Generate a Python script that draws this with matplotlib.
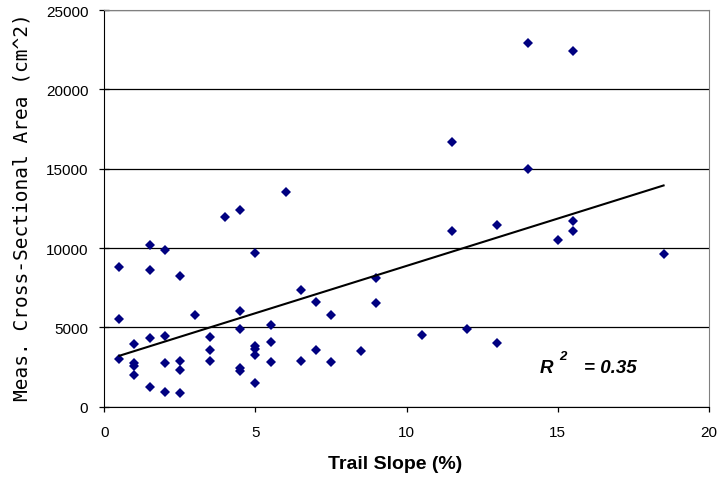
import matplotlib
matplotlib.use("Agg")
import matplotlib.pyplot as plt
import numpy as np

# trail slope (%) and measured cross-sectional area (cm^2)
slope = [0.5, 0.5, 0.5,
         1, 1, 1, 1,
         1.5, 1.5, 1.5, 1.5,
         2, 2, 2, 2,
         2.5, 2.5, 2.5, 2.5,
         3,
         3.5, 3.5, 3.5,
         4,
         4.5, 4.5, 4.5, 4.5, 4.5,
         5, 5, 5, 5, 5,
         5.5, 5.5, 5.5,
         6,
         6.5, 6.5,
         7, 7,
         7.5, 7.5,
         8.5,
         9, 9,
         10.5,
         11.5, 11.5,
         12,
         13, 13,
         14, 14,
         15,
         15.5, 15.5, 15.5,
         18.5]
area = [8800, 5550, 2980,
        3970, 2730, 2550, 1980,
        10200, 8600, 4330, 1260,
        9900, 4450, 2730, 950,
        8250, 2900, 2310, 880,
        5800,
        4400, 3570, 2880,
        11930,
        12390, 6000, 4900, 2420, 2270,
        9700, 3800, 3630, 3270, 1510,
        5150, 4100, 2820,
        13540,
        7350, 2880,
        6600, 3570,
        5780, 2800,
        3490,
        8100, 6530,
        4510,
        16700, 11060,
        4870,
        11420, 4030,
        22920, 15000,
        10520,
        22420, 11700, 11060,
        9630]
r2_label = "0.35"

x = np.array(slope)
y = np.array(area)
m, b = np.polyfit(x, y, 1)
xfit = np.array([x.min(), x.max()])

fig = plt.figure(figsize=(7.19, 4.81), dpi=100)
ax = fig.add_axes([0.145, 0.1524, 0.841, 0.8247])

ax.set_axisbelow(True)
ax.grid(axis="y", color="black", linewidth=0.9)
ax.plot(x, y, "D", color="#000080", markersize=4.6, markeredgewidth=0, zorder=3)
ax.plot(xfit, m * xfit + b, color="black", linewidth=1.5, zorder=4)

ax.set_xlim(0, 20)
ax.set_ylim(0, 25000)
ax.set_xticks(np.arange(0, 21, 5))
ax.set_yticks(np.arange(0, 25001, 5000))
ax.tick_params(axis="x", direction="out", length=3.5, width=0.9, labelsize=11,
               labelfontfamily="Liberation Sans", pad=10)
ax.tick_params(axis="y", direction="inout", length=7, width=0.9, labelsize=11,
               labelfontfamily="Liberation Sans", pad=8)
for s in ["top", "right"]:
    ax.spines[s].set_color("#808080")
for s in ["left", "bottom"]:
    ax.spines[s].set_color("black")

ax.set_xlabel("Trail Slope (%)", fontsize=14, fontweight="bold",
              family="Liberation Sans")
ax.xaxis.set_label_coords(0.481, -0.142)
ax.xaxis.label.set_va("center")
ax.set_ylabel("Meas. Cross-Sectional Area (cm^2)", fontsize=14,
              family="DejaVu Sans Mono")
ax.yaxis.set_label_coords(-0.12, 0.505)

ax.text(0.7205, 0.0976, "R", transform=ax.transAxes, fontsize=13.5,
        fontweight="bold", style="italic", family="Liberation Sans", va="center")
ax.text(0.752, 0.128, "2", transform=ax.transAxes, fontsize=9.5,
        fontweight="bold", style="italic", family="Liberation Sans", va="center")
ax.text(0.793, 0.0976, "= " + r2_label, transform=ax.transAxes, fontsize=13.5,
        fontweight="bold", style="italic", family="Liberation Sans", va="center")

fig.savefig("out.png", dpi=100)
